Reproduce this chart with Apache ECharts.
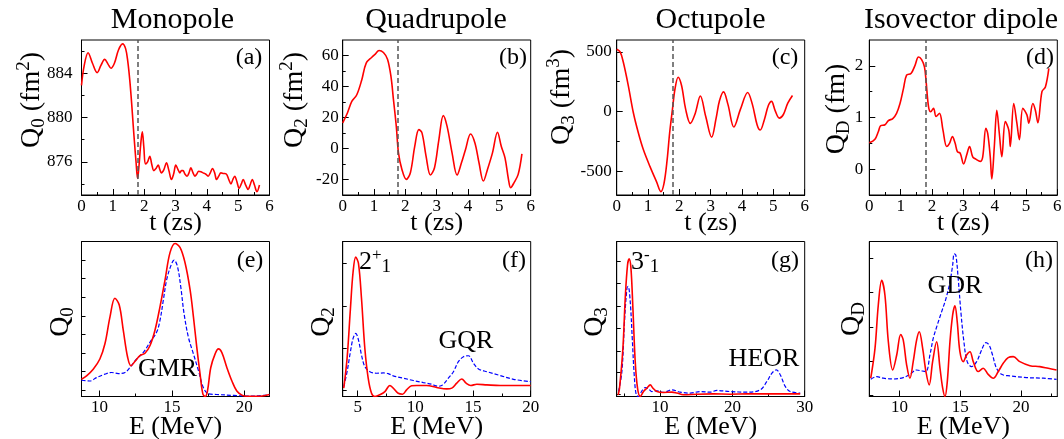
<!DOCTYPE html>
<html>
<head>
<meta charset="utf-8">
<script src="https://cdn.jsdelivr.net/npm/echarts@6/dist/echarts.min.js"></script>
<style>
  html, body { margin: 0; padding: 0; background: #fff; }
  #chart { width: 1064px; height: 439px; }
</style>
</head>
<body>
<div id="chart"></div>
<script>
// ---------- top row: time signals ----------
const monoT = [0, 0.08, 0.21, 0.35, 0.5, 0.62, 0.74, 0.85, 0.94, 1.05, 1.18, 1.31, 1.41, 1.48, 1.54, 1.6, 1.65, 1.7, 1.74, 1.79, 1.84, 1.89, 1.94, 1.99, 2.04, 2.11, 2.18, 2.24, 2.31, 2.38, 2.45, 2.5, 2.55, 2.63, 2.71, 2.79, 2.87, 2.94, 3.01, 3.08, 3.14, 3.19, 3.24, 3.3, 3.37, 3.43, 3.49, 3.56, 3.62, 3.68, 3.74, 3.81, 3.88, 3.96, 4.04, 4.11, 4.18, 4.25, 4.31, 4.38, 4.45, 4.53, 4.62, 4.7, 4.77, 4.83, 4.89, 4.96, 5.03, 5.1, 5.16, 5.24, 5.32, 5.38, 5.45, 5.52, 5.6, 5.68];
const monoQ = [882.9, 884.6, 885.85, 884.9, 884.05, 884.7, 885.25, 884.8, 884.45, 884.9, 886.1, 886.65, 886.2, 885.0, 883.4, 881.3, 879.3, 877.4, 876.0, 874.5, 875.8, 877.6, 878.7, 877.3, 875.8, 876.0, 876.5, 875.8, 875.2, 875.4, 875.7, 875.3, 875.0, 875.3, 875.9, 875.2, 874.4, 874.9, 875.7, 875.3, 875.0, 875.2, 875.2, 874.9, 874.7, 875.0, 875.45, 875.0, 874.7, 874.9, 875.15, 875.1, 875.0, 874.9, 874.7, 875.0, 875.4, 875.0, 874.4, 874.7, 875.0, 874.95, 874.9, 874.4, 874.0, 874.4, 874.7, 874.2, 873.6, 874.0, 874.4, 873.9, 873.5, 873.9, 874.4, 873.9, 873.3, 873.9];

const quadT = [0, 0.15, 0.29, 0.45, 0.61, 0.75, 0.93, 1.04, 1.16, 1.3, 1.43, 1.54, 1.62, 1.71, 1.78, 1.89, 2.03, 2.16, 2.3, 2.43, 2.53, 2.66, 2.8, 2.93, 3.07, 3.21, 3.33, 3.49, 3.65, 3.79, 3.92, 4.08, 4.22, 4.35, 4.49, 4.62, 4.78, 4.94, 5.06, 5.18, 5.29, 5.36, 5.47, 5.6, 5.72];
const quadQ = [16.5, 22.9, 30.4, 34.7, 44.4, 55.1, 58.9, 60.9, 63.2, 61.9, 57.6, 46.5, 31.5, 14.4, -2.8, -13.5, -19.9, -15.6, 1.5, 12.2, 10.1, -4.9, -17.1, -12.4, 5.8, 21.2, 14.4, -2.8, -17.1, -9.2, -0.6, 9.4, 3.6, -9.2, -21, -13.5, -2.8, 10.5, 1.5, -6, -19.9, -25.3, -22, -16.7, -3.4];

const octT = [0, 0.11, 0.21, 0.37, 0.53, 0.69, 0.85, 1.06, 1.27, 1.41, 1.51, 1.61, 1.69, 1.78, 1.86, 1.96, 2.07, 2.2, 2.35, 2.5, 2.67, 2.84, 3.03, 3.17, 3.28, 3.41, 3.55, 3.74, 3.95, 4.18, 4.33, 4.48, 4.58, 4.71, 4.84, 4.94, 5.06, 5.19, 5.32, 5.46, 5.61];
const octQ = [523, 500, 415, 218, -8, -178, -319, -460, -588, -672, -602, -404, -178, 20, 189, 288, 218, 20, -99, -20, 130, -40, -215, -60, 90, 165, 60, -130, 20, 160, 60, -110, -155, -70, 50, 85, 5, -55, -25, 70, 135];

const diT = [0, 0.18, 0.29, 0.36, 0.5, 0.61, 0.75, 0.87, 0.98, 1.09, 1.19, 1.33, 1.46, 1.57, 1.67, 1.76, 1.81, 1.89, 1.96, 2.05, 2.13, 2.24, 2.35, 2.47, 2.56, 2.65, 2.74, 2.81, 2.9, 3.01, 3.11, 3.2, 3.3, 3.41, 3.54, 3.62, 3.72, 3.78, 3.86, 3.91, 3.99, 4.07, 4.15, 4.23, 4.34, 4.45, 4.5, 4.61, 4.71, 4.79, 4.9, 5.03, 5.09, 5.22, 5.3, 5.38, 5.51, 5.62, 5.73];
const diQ = [0.51, 0.58, 0.73, 0.84, 0.86, 0.94, 0.98, 1.08, 1.27, 1.56, 1.82, 1.85, 2.01, 2.17, 2.12, 1.98, 1.72, 1.21, 1.11, 1.18, 1.02, 1.08, 0.76, 0.44, 0.5, 0.63, 0.5, 0.34, 0.31, 0.1, 0.28, 0.44, 0.24, 0.19, 0.15, 0.24, 0.79, 0.69, 0.24, -0.19, 0.44, 1.14, 0.69, 0.24, 0.92, 0.76, 0.44, 1.27, 0.89, 0.57, 1.18, 1.05, 0.89, 1.27, 1.14, 0.9, 1.5, 1.59, 1.95];

// dashed marker time in each top panel
const dashT = [1.81, 1.76, 1.78, 1.81];

// ---------- bottom row: strength functions (arb. units) ----------
const gmrRedE = [8.75, 9.1, 9.56, 10.02, 10.37, 10.72, 11.06, 11.36, 11.64, 11.94, 12.17, 12.45, 12.79, 13.14, 13.49, 13.83, 14.18, 14.53, 14.87, 15.22, 15.57, 15.91, 16.26, 16.49, 16.72, 16.95, 17.14, 17.3, 17.46, 17.69, 17.99, 18.22, 18.45, 18.8, 19.15, 19.49, 19.84, 20.18, 21.1, 21.75];
const gmrRed = [0.111, 0.133, 0.176, 0.242, 0.34, 0.514, 0.634, 0.59, 0.427, 0.253, 0.198, 0.227, 0.264, 0.279, 0.329, 0.427, 0.58, 0.754, 0.928, 0.987, 0.961, 0.863, 0.688, 0.514, 0.318, 0.144, 0.017, 0, 0.035, 0.187, 0.275, 0.307, 0.285, 0.187, 0.1, 0.035, 0.009, 0.002, 0.002, 0.013];
const gmrBlueE = [8.75, 9.33, 9.79, 10.37, 10.83, 11.29, 11.76, 12.1, 12.56, 13.03, 13.49, 13.95, 14.18, 14.41, 14.64, 14.92, 15.15, 15.38, 15.61, 15.84, 16.14, 16.49, 16.84, 17.18, 17.53, 18.1, 19.26, 20.42, 21.34, 21.75];
const gmrBlue = [0.105, 0.1, 0.122, 0.144, 0.155, 0.148, 0.155, 0.187, 0.242, 0.285, 0.351, 0.416, 0.492, 0.623, 0.754, 0.841, 0.88, 0.841, 0.71, 0.536, 0.383, 0.275, 0.166, 0.057, 0.017, 0.013, 0.007, 0.002, 0.007, 0.013];

const gqrRedE = [3.79, 4.08, 4.37, 4.6, 4.83, 5.07, 5.33, 5.62, 5.91, 6.2, 6.49, 6.92, 7.36, 7.79, 8.08, 8.51, 8.89, 9.24, 9.67, 10.11, 10.98, 11.85, 12.72, 13.16, 13.59, 14.02, 14.4, 14.8, 15.33, 16.2, 17.36, 18.8, 20];
const gqrRed = [0.054, 0.246, 0.567, 0.803, 0.899, 0.857, 0.632, 0.31, 0.118, 0.021, 0, 0.011, 0.032, 0.071, 0.054, 0.021, 0.015, 0.043, 0.069, 0.071, 0.071, 0.058, 0.049, 0.054, 0.086, 0.113, 0.086, 0.071, 0.079, 0.075, 0.071, 0.071, 0.071];
const gqrBlueE = [3.79, 4.08, 4.37, 4.6, 4.83, 5.07, 5.33, 5.62, 6.06, 6.64, 7.22, 7.65, 8.08, 8.96, 9.83, 10.69, 11.41, 11.99, 12.37, 12.86, 13.3, 13.73, 14.17, 14.6, 15.04, 15.47, 16.2, 17.36, 18.51, 20];
const gqrBlue = [0.064, 0.16, 0.289, 0.375, 0.407, 0.364, 0.268, 0.193, 0.16, 0.15, 0.152, 0.148, 0.133, 0.118, 0.103, 0.09, 0.079, 0.066, 0.075, 0.118, 0.16, 0.225, 0.257, 0.263, 0.214, 0.178, 0.16, 0.135, 0.111, 0.096];

const heorRedE = [4.2, 4.39, 4.86, 5.18, 5.5, 5.73, 5.97, 6.24, 6.56, 6.88, 7.25, 7.71, 8.18, 8.64, 9.01, 9.56, 10.48, 11.64, 12.33, 13.24, 15.09, 17.39, 19.7, 22.01, 24.31, 26.62, 29.38];
const heorRed = [0.01, 0.054, 0.312, 0.634, 0.849, 0.888, 0.828, 0.57, 0.226, 0.054, 0, 0.032, 0.054, 0.075, 0.054, 0.032, 0.026, 0.028, 0.022, 0.011, 0.015, 0.017, 0.015, 0.017, 0.017, 0.017, 0.017];
const heorBlueE = [4.25, 4.72, 5.08, 5.42, 5.59, 5.87, 6.15, 6.42, 6.7, 7.02, 7.49, 7.95, 8.4, 8.87, 9.56, 10.48, 11.64, 12.79, 14.17, 15.55, 16.94, 17.86, 19.7, 22.01, 23.85, 24.77, 25.47, 26.07, 26.62, 27.31, 28.0, 29.38];
const heorBlue = [0.032, 0.161, 0.484, 0.699, 0.71, 0.613, 0.376, 0.14, 0.011, 0, 0.037, 0.058, 0.049, 0.032, 0.037, 0.026, 0.043, 0.028, 0.022, 0.032, 0.028, 0.039, 0.032, 0.028, 0.043, 0.097, 0.151, 0.172, 0.14, 0.065, 0.032, 0.022];

const gdrRedE = [7.62, 7.97, 8.24, 8.52, 8.79, 9.07, 9.43, 9.76, 10.09, 10.3, 10.58, 10.85, 11.12, 11.4, 11.62, 11.9, 12.17, 12.44, 12.72, 13.05, 13.33, 13.55, 13.74, 13.93, 14.15, 14.37, 14.56, 14.75, 14.97, 15.25, 15.52, 15.8, 16.07, 16.48, 16.89, 17.3, 17.72, 18.13, 18.54, 18.95, 19.37, 19.91, 20.74, 21.56, 22.25, 22.94];
const gdrRed = [0.118, 0.31, 0.589, 0.749, 0.653, 0.353, 0.171, 0.268, 0.4, 0.364, 0.203, 0.118, 0.225, 0.364, 0.418, 0.31, 0.161, 0.075, 0.225, 0.353, 0.182, 0.054, 0, 0.096, 0.353, 0.525, 0.585, 0.482, 0.289, 0.225, 0.268, 0.289, 0.225, 0.161, 0.182, 0.143, 0.118, 0.161, 0.214, 0.251, 0.257, 0.225, 0.199, 0.193, 0.182, 0.171];
const gdrBlueE = [7.62, 8.11, 8.65, 9.48, 10.3, 10.85, 11.4, 11.82, 12.17, 12.5, 12.77, 13.1, 13.46, 13.82, 14.15, 14.37, 14.5, 14.64, 14.83, 15.05, 15.3, 15.57, 15.93, 16.35, 16.76, 17.11, 17.38, 17.66, 17.99, 18.41, 19.09, 20.47, 21.84, 22.94];
const gdrBlue = [0.111, 0.128, 0.118, 0.113, 0.122, 0.143, 0.171, 0.165, 0.161, 0.268, 0.375, 0.46, 0.546, 0.632, 0.739, 0.846, 0.921, 0.91, 0.76, 0.546, 0.353, 0.225, 0.193, 0.225, 0.3, 0.347, 0.332, 0.268, 0.182, 0.143, 0.133, 0.122, 0.118, 0.111];

// ---------- tick labels ----------
const timeTicks = [0, 1, 2, 3, 4, 5, 6];
const timeMinor = [0.5, 1.5, 2.5, 3.5, 4.5, 5.5];
const monoTicks = [876, 880, 884], monoMinor = [874, 878, 882, 886];
const quadTicks = [-20, 0, 20, 40, 60], quadMinor = [-10, 10, 30, 50];
const octTicks = [-500, 0, 500], octMinor = [-250, 250];
const diTicks = [0, 1, 2], diMinor = [0.5, 1.5];
const gmrTicks = [10, 15, 20], gmrMinor = [12.5, 17.5];
const gqrTicks = [5, 10, 15, 20], gqrMinor = [7.5, 12.5, 17.5];
const heorTicks = [10, 20, 30], heorMinor = [5, 15, 25];
const gdrTicks = [10, 15, 20], gdrMinor = [12.5, 17.5, 22.5];
const gmrYTicks = [0.04, 0.16, 0.28, 0.4, 0.52, 0.64, 0.76, 0.88];
const gqrYTicks = [0.04, 0.31, 0.585, 0.857];
const heorYTicks = [0.015, 0.155, 0.295, 0.44, 0.585, 0.73, 0.87];
const gdrYTicks = [0.005, 0.225, 0.445, 0.67, 0.89];

const FONT = '"Liberation Serif", "Times New Roman", serif';
const RED = '#ff0000', BLUE = '#0000ff';
const LEFTS = [81.5, 342.7, 616.7, 869.3];
const TOPS = [40, 241.5];
const W = 188, H = 155;

const panels = [
  { x: [0, 6], xt: timeTicks, xm: timeMinor, y: [873, 887], yt: monoTicks, ym: monoMinor, lm: 9, dash: dashT[0], lines: [[monoT, monoQ, 'r']] },
  { x: [0, 6], xt: timeTicks, xm: timeMinor, y: [-30, 70], yt: quadTicks, ym: quadMinor, lm: 4, dash: dashT[1], lines: [[quadT, quadQ, 'r']] },
  { x: [0, 6], xt: timeTicks, xm: timeMinor, y: [-700, 600], yt: octTicks, ym: octMinor, lm: 5, dash: dashT[2], lines: [[octT, octQ, 'r']] },
  { x: [0, 6], xt: timeTicks, xm: timeMinor, y: [-0.5, 2.5], yt: diTicks, ym: diMinor, lm: 6, dash: dashT[3], lines: [[diT, diQ, 'r']] },
  { x: [8.75, 21.75], xt: gmrTicks, xm: gmrMinor, y: [0, 1], yt: gmrYTicks, ym: [], lines: [[gmrBlueE, gmrBlue, 'b'], [gmrRedE, gmrRed, 'r']] },
  { x: [3.7, 20], xt: gqrTicks, xm: gqrMinor, y: [0, 1], yt: gqrYTicks, ym: [], lines: [[gqrBlueE, gqrBlue, 'b'], [gqrRedE, gqrRed, 'r']] },
  { x: [4, 30], xt: heorTicks, xm: heorMinor, y: [0, 1], yt: heorYTicks, ym: [], lines: [[heorBlueE, heorBlue, 'b'], [heorRedE, heorRed, 'r']] },
  { x: [7.5, 23], xt: gdrTicks, xm: gdrMinor, y: [0, 1], yt: gdrYTicks, ym: [], lines: [[gdrBlueE, gdrBlue, 'b'], [gdrRedE, gdrRed, 'r']] }
];

const grid = [], xAxis = [], yAxis = [], series = [];
const black = { color: '#000', width: 1 };

panels.forEach((p, i) => {
  const row = i < 4 ? 0 : 1;
  grid.push({
    left: LEFTS[i % 4], top: TOPS[row], width: W, height: H,
    show: true, borderColor: '#000', borderWidth: 1, backgroundColor: 'rgba(0,0,0,0)',
    containLabel: false, outerBoundsMode: 'none'
  });
  const base = { gridIndex: i, type: 'value', silent: true, splitLine: { show: false }, minorTick: { show: false }, minorSplitLine: { show: false } };

  xAxis.push(Object.assign({}, base, {
    position: 'bottom', min: p.x[0], max: p.x[1],
    name: row ? 'E (MeV)' : 't (zs)', nameLocation: 'middle', nameGap: row ? 31 : 28, nameMoveOverlap: false,
    nameTextStyle: { fontFamily: FONT, fontSize: 26, color: '#000', verticalAlign: 'middle' },
    axisLine: { show: true, onZero: false, lineStyle: black },
    axisTick: { show: true, inside: true, length: 6, customValues: p.xt, lineStyle: black },
    axisLabel: { show: true, customValues: p.xt, margin: 3, fontFamily: FONT, fontSize: 17, color: '#000' }
  }));
  xAxis.push(Object.assign({}, base, {
    position: 'bottom', min: p.x[0], max: p.x[1],
    axisLine: { show: false, onZero: false },
    axisTick: { show: true, inside: true, length: 3, customValues: p.xm, lineStyle: black },
    axisLabel: { show: false }
  }));

  yAxis.push(Object.assign({}, base, {
    position: 'left', min: p.y[0], max: p.y[1],
    axisLine: { show: true, onZero: false, lineStyle: black },
    axisTick: { show: true, inside: true, length: row ? 4 : 6, customValues: p.yt, lineStyle: black },
    axisLabel: row ? { show: false } : { show: true, customValues: p.yt, margin: p.lm, fontFamily: FONT, fontSize: 17, color: '#000' }
  }));
  yAxis.push(Object.assign({}, base, {
    position: 'left', min: p.y[0], max: p.y[1],
    axisLine: { show: false, onZero: false },
    axisTick: { show: p.ym.length > 0, inside: true, length: 3, customValues: p.ym.length ? p.ym : [p.y[0]], lineStyle: black },
    axisLabel: { show: false }
  }));

  p.lines.forEach(([xs, ys, kind], k) => {
    const s = {
      type: 'line', xAxisIndex: 2 * i, yAxisIndex: 2 * i,
      data: xs.map((x, j) => [x, ys[j]]),
      showSymbol: false, symbol: 'none', smooth: 0.35, clip: true, silent: true,
      lineStyle: kind === 'r' ? { color: RED, width: 1.6 } : { color: BLUE, width: 1.2, type: [4, 2] },
      z: kind === 'r' ? 3 : 2
    };
    if (p.dash !== undefined && k === 0) {
      s.markLine = {
        silent: true, symbol: ['none', 'none'], label: { show: false }, animation: false,
        lineStyle: { color: '#555', type: [5, 3], width: 1.5 },
        data: [{ xAxis: p.dash }]
      };
    }
    series.push(s);
  });
});

// ---------- text overlays ----------
function txt(x, y, text, size, extra) {
  return Object.assign({
    type: 'text', x: x, y: y, silent: true, z: 100,
    style: { text: text, fontFamily: FONT, fontSize: size, fill: '#000', align: 'center', verticalAlign: 'middle' }
  }, extra || {});
}
const qRich = {
  q: { fontFamily: FONT, fontSize: 28, lineHeight: 34, fill: '#000' },
  n: { fontFamily: FONT, fontSize: 28, lineHeight: 34, fill: '#000' },
  s: { fontFamily: FONT, fontSize: 19, lineHeight: 19, verticalAlign: 'bottom', fill: '#000' },
  p: { fontFamily: FONT, fontSize: 19, lineHeight: 19, verticalAlign: 'top', fill: '#000' }
};
function yName(x, y, text) {
  const t = txt(x, y, text, 28, { rotation: Math.PI / 2 });
  t.style.rich = qRich;
  return t;
}
const annRich = {
  n: { fontFamily: FONT, fontSize: 26, lineHeight: 30, fill: '#000' },
  p: { fontFamily: FONT, fontSize: 17, lineHeight: 17, verticalAlign: 'top', fill: '#000' },
  s: { fontFamily: FONT, fontSize: 19, lineHeight: 21, verticalAlign: 'bottom', fill: '#000' }
};
function ann(x, y, text) {
  const t = txt(x, y, text, 26);
  t.style.align = 'left';
  t.style.rich = annRich;
  return t;
}

const graphics = [
  txt(172.5, 20, 'Monopole', 30),
  txt(436, 20, 'Quadrupole', 30),
  txt(710.5, 20, 'Octupole', 30),
  txt(961, 20, 'Isovector dipole', 30),
  txt(249, 58, '(a)', 24), txt(513, 58, '(b)', 24), txt(785, 58, '(c)', 24), txt(1040, 58, '(d)', 24),
  txt(250, 261, '(e)', 24), txt(514, 261, '(f)', 24), txt(785, 261, '(g)', 24), txt(1039, 261, '(h)', 24),
  yName(31.5, 100, '{q|Q}{s|0}{n| (fm}{p|2}{n|)}'),
  yName(295, 100, '{q|Q}{s|2}{n| (fm}{p|2}{n|)}'),
  yName(561.7, 97, '{q|Q}{s|3}{n| (fm}{p|3}{n|)}'),
  yName(836.7, 109, '{q|Q}{s|D}{n| (fm)}'),
  yName(61, 322, '{q|Q}{s|0}'),
  yName(322, 322, '{q|Q}{s|2}'),
  yName(595, 322, '{q|Q}{s|3}'),
  yName(852, 319, '{q|Q}{s|D}'),
  txt(167.5, 369, 'GMR', 26),
  txt(466, 341, 'GQR', 26),
  txt(764, 359, 'HEOR', 26),
  txt(955, 286, 'GDR', 26),
  ann(359, 262, '{n|2}{p|+}{s|1}'),
  ann(631, 262, '{n|3}{p|-}{s|1}')
];

const chart = echarts.init(document.getElementById('chart'), null, { renderer: 'canvas' });
chart.setOption({
  animation: false,
  backgroundColor: '#fff',
  grid: grid,
  xAxis: xAxis,
  yAxis: yAxis,
  series: series,
  graphic: { elements: graphics }
});
</script>
</body>
</html>
